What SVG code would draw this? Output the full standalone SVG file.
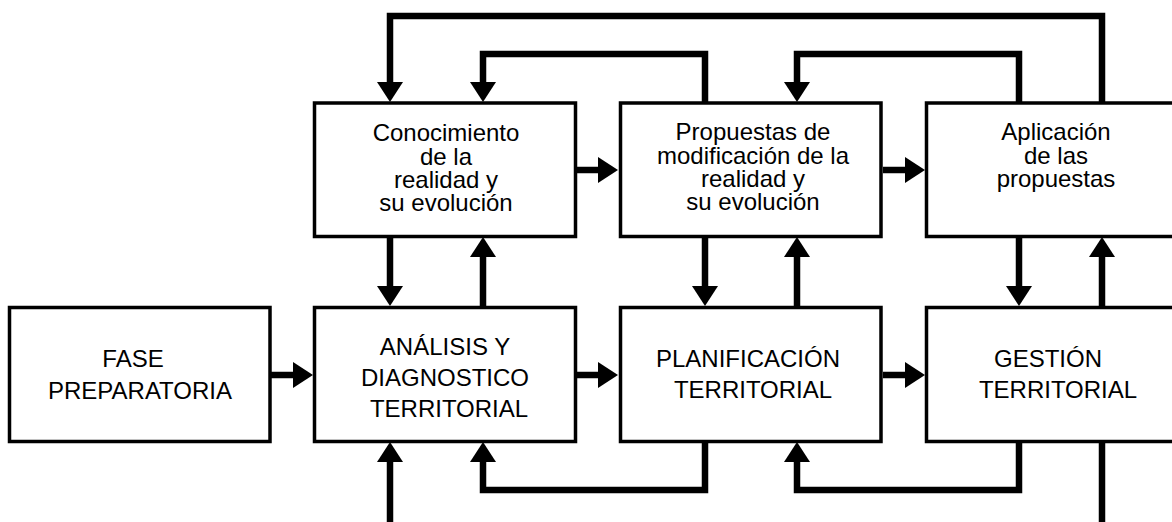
<svg xmlns="http://www.w3.org/2000/svg" width="1172" height="522" viewBox="0 0 1172 522">
<defs>
<style>
.box{fill:#fff;stroke:#000;stroke-width:3.5}
.t{font-family:"Liberation Sans",Arial,sans-serif;font-size:24px;fill:#000;text-anchor:middle}
.c{fill:none;stroke:#000;stroke-width:6.5;stroke-linejoin:miter;stroke-linecap:butt}
.a{marker-end:url(#ah)}
</style>
<marker id="ah" markerUnits="userSpaceOnUse" viewBox="0 0 20 26" refX="0" refY="13" markerWidth="20" markerHeight="26" orient="auto" overflow="visible">
<path d="M0,0 L20,13 L0,26 Z" fill="#000"/>
</marker>
</defs>
<rect width="1172" height="522" fill="#fff"/>
<g id="n-conocimiento">
<rect class="box" x="314.5" y="103" width="261" height="133.5"/>
<text class="t" x="446" y="141">Conocimiento</text>
<text class="t" x="446" y="164.5">de la</text>
<text class="t" x="446" y="188">realidad y</text>
<text class="t" x="446" y="211">su evolución</text>
</g>
<g id="n-propuestas">
<rect class="box" x="620.5" y="103" width="260.5" height="133.5"/>
<text class="t" x="753" y="140">Propuestas de</text>
<text class="t" x="753" y="163.5">modificación de la</text>
<text class="t" x="753" y="187">realidad y</text>
<text class="t" x="753" y="210">su evolución</text>
</g>
<g id="n-aplicacion">
<rect class="box" x="926.5" y="103" width="260" height="133.5"/>
<text class="t" x="1056" y="140">Aplicación</text>
<text class="t" x="1056" y="163.5">de las</text>
<text class="t" x="1056" y="187">propuestas</text>
</g>
<g id="n-fase">
<rect class="box" x="9.5" y="307.5" width="260.5" height="134"/>
<text class="t" x="133" y="367">FASE</text>
<text class="t" x="140" y="399">PREPARATORIA</text>
</g>
<g id="n-analisis">
<rect class="box" x="314.5" y="307.5" width="261" height="134"/>
<text class="t" x="445" y="355">ANÁLISIS Y</text>
<text class="t" x="445" y="386">DIAGNOSTICO</text>
<text class="t" x="449" y="417">TERRITORIAL</text>
</g>
<g id="n-planificacion">
<rect class="box" x="620.5" y="307.5" width="260.5" height="134"/>
<text class="t" x="748" y="367">PLANIFICACIÓN</text>
<text class="t" x="753" y="398">TERRITORIAL</text>
</g>
<g id="n-gestion">
<rect class="box" x="926.5" y="307.5" width="260" height="134"/>
<text class="t" x="1048" y="367">GESTIÓN</text>
<text class="t" x="1058" y="398">TERRITORIAL</text>
</g>
<g id="connectors">
<path class="c a" d="M1102,104 V16 H390 V82"/>
<path class="c a" d="M705,104 V54 H483 V82"/>
<path class="c a" d="M1019,104 V54 H797 V82"/>
<path class="c a" d="M577,170 H598"/>
<path class="c a" d="M883,170 H905"/>
<path class="c a" d="M271,375 H293"/>
<path class="c a" d="M577,375 H598"/>
<path class="c a" d="M883,375 H905"/>
<path class="c a" d="M390,237 V286"/>
<path class="c a" d="M483,307 V257"/>
<path class="c a" d="M705,237 V286"/>
<path class="c a" d="M797,307 V257"/>
<path class="c a" d="M1019,237 V286"/>
<path class="c a" d="M1102,307 V257"/>
<path class="c a" d="M390,522 V462"/>
<path class="c a" d="M705,442 V490 H483 V462"/>
<path class="c a" d="M1019,442 V490 H797 V462"/>
<path class="c" d="M1102,442 V522"/>
</g>
</svg>
